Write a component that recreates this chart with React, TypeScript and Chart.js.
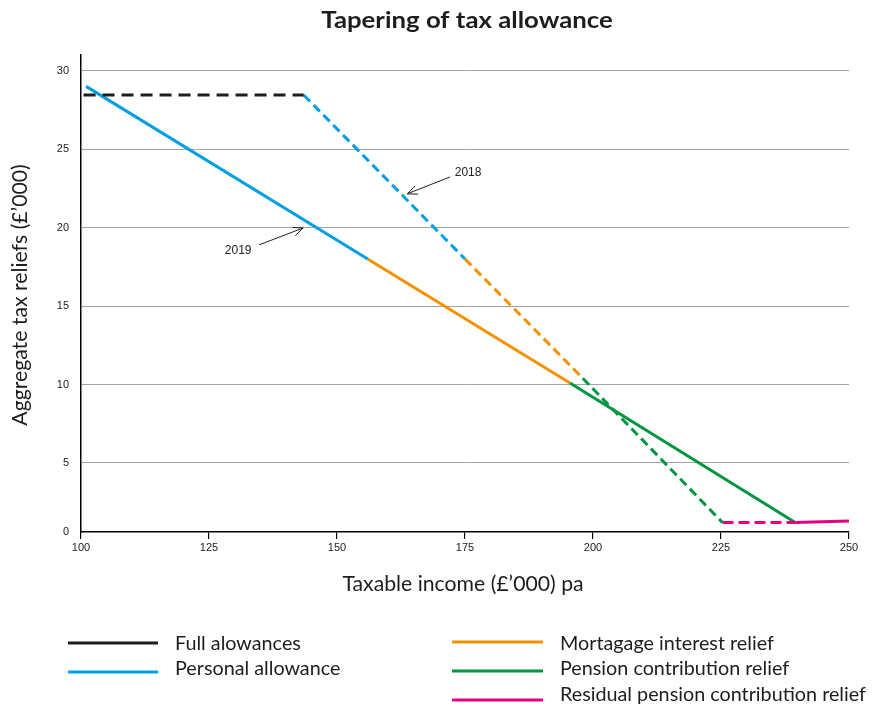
import React, { useEffect, useRef } from "react";
import { Chart, registerables } from "chart.js";

Chart.register(...registerables);

// ---- data (taxable income £'000, aggregate reliefs £'000) ----
const xTicks = [100, 125, 150, 175, 200, 225, 250];
const yTicks = [5, 10, 15, 20, 25, 30];
const yAxisBase = 0.6; // value where the x axis crosses (labelled "0")
const yAxisTop = 31;

const fullX = [100.5, 143.5];
const fullY = [28.45, 28.45];

// 2019 (solid)
const personal19X = [101, 156];
const personal19Y = [29, 18];
const mortgage19X = [156, 195.5];
const mortgage19Y = [18, 10.1];
const pension19X = [195.5, 239.5];
const pension19Y = [10.1, 1.2];
const residual19X = [239.5, 250];
const residual19Y = [1.2, 1.3];

// 2018 (dashed)
const personal18X = [143.5, 175];
const personal18Y = [28.45, 18];
const mortgage18X = [175, 198];
const mortgage18Y = [18, 10.4];
const pension18X = [198, 225.3];
const pension18Y = [10.4, 1.2];
const residual18X = [225.3, 239.5];
const residual18Y = [1.2, 1.2];

const legendLabels = [
  "Full alowances",
  "Personal allowance",
  "Mortagage interest relief",
  "Pension contribution relief",
  "Residual pension contribution relief",
];

const annotationLabels = ["2018", "2019"];

const BLACK = "#1d1d1b";
const BLUE = "#009fe3";
const ORANGE = "#f39200";
const GREEN = "#00963f";
const PINK = "#e6007e";

const pts = (xs: number[], ys: number[]) => xs.map((x, i) => ({ x, y: ys[i] }));

export default function App() {
  const ref = useRef<HTMLCanvasElement | null>(null);

  useEffect(() => {
    document.body.style.margin = "0";
    const canvas = ref.current!;
    const mk = (data: any, color: string, dash: number[] = [], width = 3) => ({
      data,
      borderColor: color,
      backgroundColor: color,
      borderWidth: width,
      borderDash: dash,
      borderCapStyle: "butt",
      pointRadius: 0,
      tension: 0,
      fill: false,
    });

    const textPlugin = {
      id: "texts",
      afterDraw(chart: any) {
        const ctx = chart.ctx as CanvasRenderingContext2D;
        const xs = chart.scales.x;
        const ys = chart.scales.y;
        const area = chart.chartArea;
        const drawText = (
          t: string,
          x: number,
          y: number,
          font: string,
          align: CanvasTextAlign = "left",
          sx = 1,
          color = "#1d1d1b"
        ) => {
          ctx.save();
          ctx.font = font;
          ctx.fillStyle = color;
          ctx.textAlign = align;
          ctx.textBaseline = "alphabetic";
          ctx.translate(x, y);
          ctx.scale(sx, 1);
          ctx.fillText(t, 0, 0);
          ctx.restore();
        };

        // title
        drawText("Tapering of tax allowance", 467, 28, "bold 23px Lato", "center", 1.12);
        // x axis title
        drawText("Taxable income (£’000) pa", 463, 591, "21px Lato", "center", 1.01);
        // y axis title
        ctx.save();
        ctx.translate(27, 295);
        ctx.rotate(-Math.PI / 2);
        ctx.font = "21px Lato";
        ctx.fillStyle = "#1d1d1b";
        ctx.textAlign = "center";
        ctx.scale(1.01, 1);
        ctx.fillText("Aggregate tax reliefs (£’000)", 0, 0);
        ctx.restore();

        // annotations with arrows
        const arrows = [
          { label: annotationLabels[0], tx: 175.6, ty: 23.49, fx: 172.1, fy: 23.23, hx: 163.7, hy: 22.15 },
          { label: annotationLabels[1], tx: 130.7, ty: 18.52, fx: 134.8, fy: 18.9, hx: 143.4, hy: 19.98 },
        ];
        arrows.forEach((a) => {
          const x1 = xs.getPixelForValue(a.fx);
          const y1 = ys.getPixelForValue(a.fy);
          const x2 = xs.getPixelForValue(a.hx);
          const y2 = ys.getPixelForValue(a.hy);
          ctx.save();
          ctx.strokeStyle = "#222";
          ctx.lineWidth = 1;
          ctx.beginPath();
          ctx.moveTo(x1, y1);
          ctx.lineTo(x2, y2);
          const ang = Math.atan2(y1 - y2, x1 - x2);
          const L = 11;
          const s = 0.4;
          ctx.moveTo(x2 + L * Math.cos(ang + s), y2 + L * Math.sin(ang + s));
          ctx.lineTo(x2, y2);
          ctx.lineTo(x2 + L * Math.cos(ang - s), y2 + L * Math.sin(ang - s));
          ctx.stroke();
          ctx.restore();
          ctx.save();
          ctx.font = "12px 'Liberation Sans', Arial";
          ctx.fillStyle = "#222";
          ctx.textAlign = "center";
          ctx.textBaseline = "middle";
          ctx.fillText(a.label, xs.getPixelForValue(a.tx), ys.getPixelForValue(a.ty));
          ctx.restore();
        });

        // legend
        const colors = [BLACK, BLUE, ORANGE, GREEN, PINK];
        const items = [
          { lx1: 68, lx2: 158, ly: 643, tx: 175, ty: 650 },
          { lx1: 68, lx2: 158, ly: 672, tx: 175, ty: 675 },
          { lx1: 452, lx2: 543, ly: 642, tx: 560, ty: 650 },
          { lx1: 452, lx2: 543, ly: 671, tx: 560, ty: 675 },
          { lx1: 452, lx2: 543, ly: 700, tx: 560, ty: 701 },
        ];
        items.forEach((it, i) => {
          ctx.save();
          ctx.strokeStyle = colors[i];
          ctx.lineWidth = 3;
          ctx.beginPath();
          ctx.moveTo(it.lx1, it.ly);
          ctx.lineTo(it.lx2, it.ly);
          ctx.stroke();
          ctx.restore();
          drawText(legendLabels[i], it.tx, it.ty, "19px Lato", "left", 1.04);
        });
      },
    };

    const chart = new Chart(canvas, {
      type: "line",
      data: {
        datasets: [
          mk(pts(fullX, fullY), BLACK, [12, 7]),
          mk(pts(personal18X, personal18Y), BLUE, [9, 5]),
          mk(pts(mortgage18X, mortgage18Y), ORANGE, [9, 5]),
          mk(pts(pension18X, pension18Y), GREEN, [9, 5]),
          mk(pts(residual18X, residual18Y), PINK, [11, 5]),
          mk(pts(personal19X, personal19Y), BLUE),
          mk(pts(mortgage19X, mortgage19Y), ORANGE),
          mk(pts(pension19X, pension19Y), GREEN),
          mk(pts(residual19X, residual19Y), PINK),
        ] as any,
      },
      options: {
        animation: false,
        responsive: false,
        maintainAspectRatio: false,
        devicePixelRatio: 1,
        layout: { padding: { top: 55, right: 26, bottom: 0, left: 0 } },
        plugins: {
          legend: { display: false },
          title: { display: false },
          tooltip: { enabled: false },
        },
        scales: {
          x: {
            type: "linear",
            min: 100,
            max: 250,
            afterBuildTicks: (axis: any) => {
              axis.ticks = xTicks.map((v) => ({ value: v }));
            },
            afterFit: (scale: any) => {
              scale.height = 705 - 532;
            },
            border: { display: true, color: "#000", width: 1.5 },
            grid: {
              display: true,
              drawOnChartArea: false,
              drawTicks: true,
              tickLength: 7,
              color: "#000",
              lineWidth: 1.2,
            },
            ticks: {
              padding: 2,
              color: "#222",
              font: { family: "'Liberation Sans Narrow', 'Liberation Sans', Arial", size: 11 },
              maxRotation: 0,
              autoSkip: false,
            },
          },
          y: {
            type: "linear",
            min: yAxisBase,
            max: yAxisTop,
            afterBuildTicks: (axis: any) => {
              axis.ticks = [{ value: yAxisBase }, ...yTicks.map((v) => ({ value: v }))];
            },
            afterFit: (scale: any) => {
              scale.width = 81;
            },
            border: { display: true, color: "#000", width: 1.5 },
            grid: {
              drawTicks: false,
              color: (c: any) => (c.tick && c.tick.value === yAxisBase ? "rgba(0,0,0,0)" : "#a3a3a3"),
              lineWidth: 1,
            },
            ticks: {
              padding: 12,
              color: "#222",
              font: { family: "'Liberation Sans Narrow', 'Liberation Sans', Arial", size: 11 },
              callback: (v: number) => (v === yAxisBase ? "0" : String(v)),
            },
          },
        },
      } as any,
      plugins: [textPlugin],
    });
    return () => chart.destroy();
  }, []);

  return (
    <div style={{ width: 875, height: 705 }}>
      <canvas ref={ref} width={875} height={705} style={{ display: "block" }} />
    </div>
  );
}
